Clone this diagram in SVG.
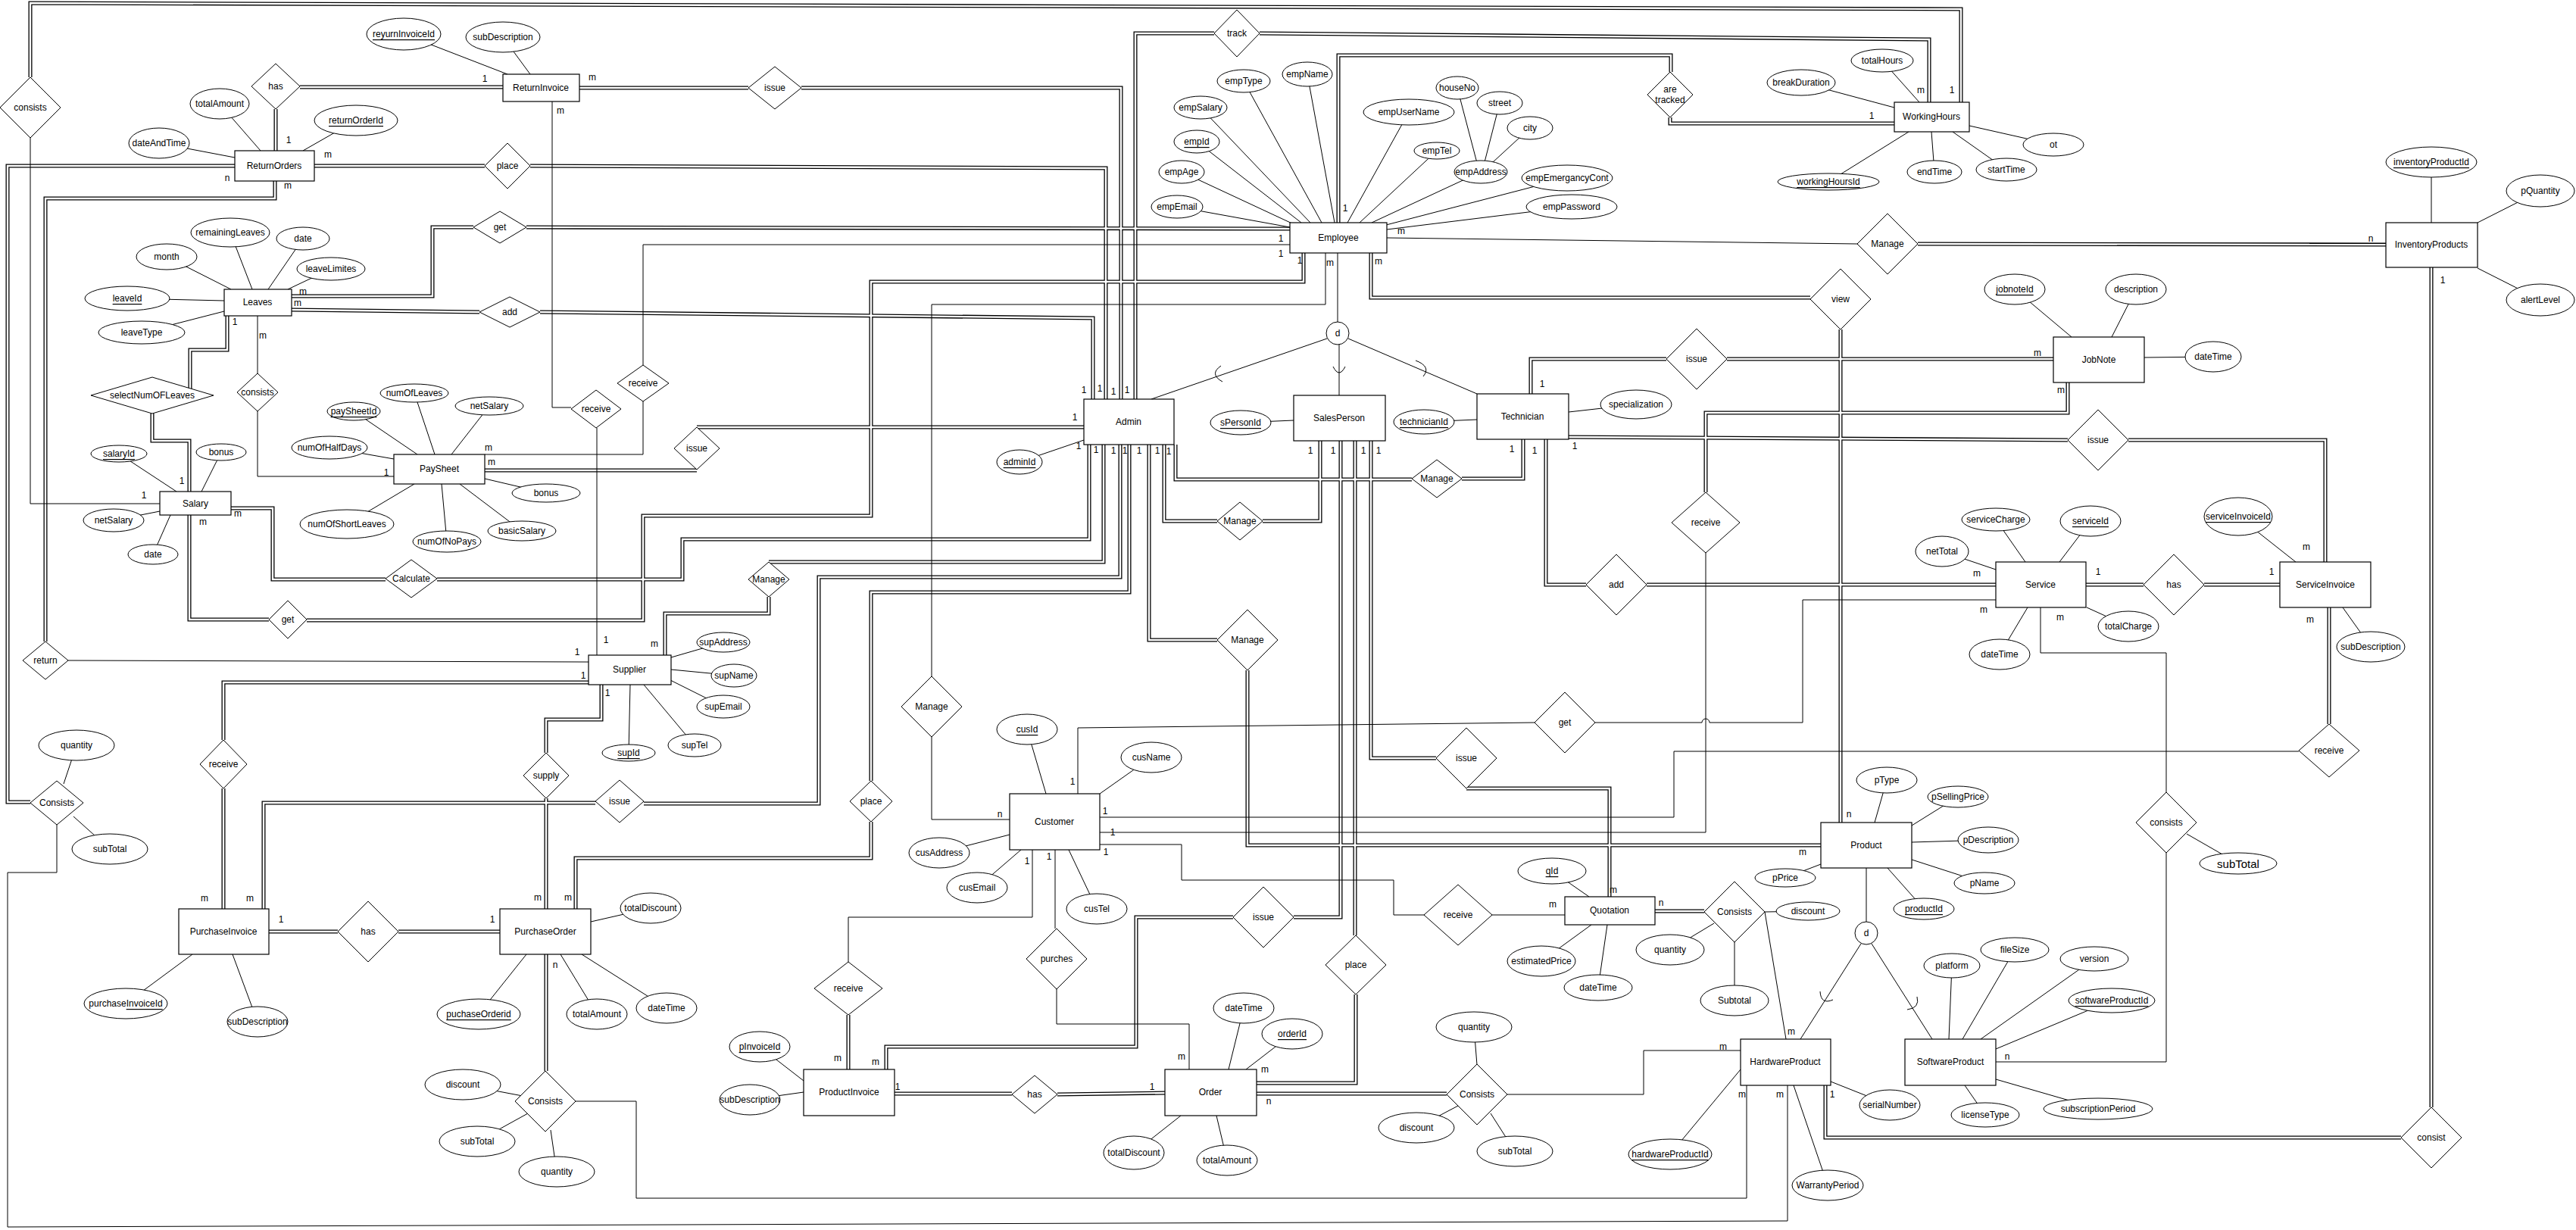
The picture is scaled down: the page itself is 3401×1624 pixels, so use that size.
<svg xmlns="http://www.w3.org/2000/svg" xmlns:xlink="http://www.w3.org/1999/xlink" width="3401" height="1624" viewBox="0 0 3401 1624">
<style>
.e{fill:#fff;stroke:#000;stroke-width:1.2}
.a{fill:#fff;stroke:#000;stroke-width:1}
.r{fill:#fff;stroke:#000;stroke-width:1}
text{font-family:"Liberation Sans",Arial,sans-serif;font-size:12px;fill:#000;text-anchor:middle;dominant-baseline:central}
.u{text-decoration:underline}
.big{font-size:15px}
.s path,.s line{fill:none;stroke:#000;stroke-width:1}
.d1{fill:none;stroke:#000;stroke-width:5}
.d2{fill:none;stroke:#fff;stroke-width:2.4}
</style>
<defs>
<path id="D1" d="M40,102V4L2589,12V135"/>
<path id="D2" d="M364,144V199"/>
<path id="D3" d="M396,115H664"/>
<path id="D4" d="M765,116H988"/>
<path id="D5" d="M1058,116H1480V527"/>
<path id="D6" d="M415,219H640"/>
<path id="D7" d="M700,219L1460,222V527"/>
<path id="D8" d="M385,391H571V300H625"/>
<path id="D9" d="M695,300L1703,302"/>
<path id="D10" d="M385,409L633,412"/>
<path id="D11" d="M713,412L1443,420V527"/>
<path id="D12" d="M1603,44H1499V527"/>
<path id="D13" d="M1663,44L2547,52V135"/>
<path id="D14" d="M1767,294V73H2206V95"/>
<path id="D15" d="M2205,155V163H2501"/>
<path id="D16" d="M1810,334V393H2390"/>
<path id="D17" d="M2430,435V1086"/>
<path id="D18" d="M2532,322L3150,323"/>
<path id="D19" d="M3210,353V1462"/>
<path id="D20" d="M3170,1502H2410V1433"/>
<path id="D21" d="M1721,334V372H1150V681H849V819H405"/>
<path id="D22" d="M355,818H250V680"/>
<path id="D23" d="M305,671H360V765H509"/>
<path id="D24" d="M577,765H901V712H1438V587"/>
<path id="D25" d="M640,621H920"/>
<path id="D26" d="M920,564H1431"/>
<path id="D27" d="M1457,587V742H1015"/>
<path id="D28" d="M1015,788V810H878V865"/>
<path id="D29" d="M1479,587V762H1081V1061H850"/>
<path id="D30" d="M786,1060H348V1200"/>
<path id="D31" d="M1491,587V782H1150V1031"/>
<path id="D32" d="M1150,1085V1133H760V1200"/>
<path id="D33" d="M1517,587V845H1607"/>
<path id="D34" d="M1647,885V1116H2404"/>
<path id="D35" d="M1537,587V688H1607"/>
<path id="D36" d="M1667,688H1743V582"/>
<path id="D37" d="M1552,587V633H1864"/>
<path id="D38" d="M1930,632H2011V580"/>
<path id="D39" d="M2021,520V474H2200"/>
<path id="D40" d="M2280,474H2711"/>
<path id="D41" d="M2041,580V772H2094"/>
<path id="D42" d="M2174,772H2635"/>
<path id="D43" d="M2071,577L2730,581"/>
<path id="D44" d="M2810,581H3070V742"/>
<path id="D45" d="M2754,772H2830"/>
<path id="D46" d="M2910,772H3010"/>
<path id="D47" d="M3075,956V802"/>
<path id="D48" d="M2730,505V545H2252V650"/>
<path id="D49" d="M310,219H10V1059H40"/>
<path id="D50" d="M363,239V262H60V847"/>
<path id="D51" d="M300,417V462H251V513"/>
<path id="D52" d="M201,546V582H250V649"/>
<path id="D53" d="M794,904V950H721V994"/>
<path id="D54" d="M721,1054V1200"/>
<path id="D55" d="M777,901H295V977"/>
<path id="D56" d="M295,1041V1200"/>
<path id="D57" d="M355,1230H446"/>
<path id="D58" d="M526,1230H660"/>
<path id="D59" d="M721,1260V1414"/>
<path id="D60" d="M1770,582V1211H1708"/>
<path id="D61" d="M1628,1211H1500V1382H1170V1412"/>
<path id="D62" d="M1789,582V1235"/>
<path id="D63" d="M1790,1313V1430H1659"/>
<path id="D64" d="M1659,1444H1910"/>
<path id="D65" d="M1810,582V1001H1896"/>
<path id="D66" d="M1936,1041H2125V1184"/>
<path id="D67" d="M1120,1340V1412"/>
<path id="D68" d="M1181,1444H1336"/>
<path id="D69" d="M1396,1445L1538,1443"/>
<path id="D70" d="M2185,1203H2250"/>
</defs>
<rect width="3401" height="1624" fill="#fff"/>
<g id="connectors">
<g class="d1">
<use href="#D1"/><use href="#D2"/><use href="#D3"/><use href="#D4"/><use href="#D5"/><use href="#D6"/><use href="#D7"/><use href="#D8"/><use href="#D9"/><use href="#D10"/>
<use href="#D11"/><use href="#D12"/><use href="#D13"/><use href="#D14"/><use href="#D15"/><use href="#D16"/><use href="#D17"/><use href="#D18"/><use href="#D19"/><use href="#D20"/>
<use href="#D21"/><use href="#D22"/><use href="#D23"/><use href="#D24"/><use href="#D25"/><use href="#D26"/><use href="#D27"/><use href="#D28"/><use href="#D29"/><use href="#D30"/>
<use href="#D31"/><use href="#D32"/><use href="#D33"/><use href="#D34"/><use href="#D35"/><use href="#D36"/><use href="#D37"/><use href="#D38"/><use href="#D39"/><use href="#D40"/>
<use href="#D41"/><use href="#D42"/><use href="#D43"/><use href="#D44"/><use href="#D45"/><use href="#D46"/><use href="#D47"/><use href="#D48"/><use href="#D49"/><use href="#D50"/>
<use href="#D51"/><use href="#D52"/><use href="#D53"/><use href="#D54"/><use href="#D55"/><use href="#D56"/><use href="#D57"/><use href="#D58"/><use href="#D59"/><use href="#D60"/>
<use href="#D61"/><use href="#D62"/><use href="#D63"/><use href="#D64"/><use href="#D65"/><use href="#D66"/><use href="#D67"/><use href="#D68"/><use href="#D69"/><use href="#D70"/>
</g>
<g class="d2">
<use href="#D1"/><use href="#D2"/><use href="#D3"/><use href="#D4"/><use href="#D5"/><use href="#D6"/><use href="#D7"/><use href="#D8"/><use href="#D9"/><use href="#D10"/>
<use href="#D11"/><use href="#D12"/><use href="#D13"/><use href="#D14"/><use href="#D15"/><use href="#D16"/><use href="#D17"/><use href="#D18"/><use href="#D19"/><use href="#D20"/>
<use href="#D21"/><use href="#D22"/><use href="#D23"/><use href="#D24"/><use href="#D25"/><use href="#D26"/><use href="#D27"/><use href="#D28"/><use href="#D29"/><use href="#D30"/>
<use href="#D31"/><use href="#D32"/><use href="#D33"/><use href="#D34"/><use href="#D35"/><use href="#D36"/><use href="#D37"/><use href="#D38"/><use href="#D39"/><use href="#D40"/>
<use href="#D41"/><use href="#D42"/><use href="#D43"/><use href="#D44"/><use href="#D45"/><use href="#D46"/><use href="#D47"/><use href="#D48"/><use href="#D49"/><use href="#D50"/>
<use href="#D51"/><use href="#D52"/><use href="#D53"/><use href="#D54"/><use href="#D55"/><use href="#D56"/><use href="#D57"/><use href="#D58"/><use href="#D59"/><use href="#D60"/>
<use href="#D61"/><use href="#D62"/><use href="#D63"/><use href="#D64"/><use href="#D65"/><use href="#D66"/><use href="#D67"/><use href="#D68"/><use href="#D69"/><use href="#D70"/>
</g>
<g class="s">
<path d="M40,182V665H211"/>
<path d="M729,134V538H754"/>
<path d="M788,565V865"/>
<path d="M1703,323H849V482"/>
<path d="M849,530V600H640"/>
<path d="M520,629H340V543"/>
<path d="M340,493V417"/>
<path d="M90,872L777,874"/>
<path d="M1750,334V402H1230V893"/>
<path d="M1230,973V1082H1333"/>
<path d="M1831,314L2452,322"/>
<path d="M1766,334V425"/>
<path d="M1768,455V522"/>
<path d="M1780,447L1950,520"/>
<path d="M1752,447L1520,527"/>
<path d="M1423,1048V961L2026,954"/>
<path d="M2106,954H2247a5,5 0 0 1 10,0H2380V792H2635"/>
<path d="M2252,730V1099H1452"/>
<path d="M1452,1079H2210V992H3035"/>
<path d="M1452,1115H1560V1162H1840V1208H1880"/>
<path d="M1970,1208H2066"/>
<path d="M1363,1122V1211H1120V1270"/>
<path d="M1393,1122V1226"/>
<path d="M1395,1306V1352H1570V1412"/>
<path d="M2330,1204L2358,1372"/>
<path d="M2298,1387H2170V1445H1990"/>
<path d="M2306,1433V1582H840V1454H760"/>
<path d="M2360,1433V1612L10,1620V1152H75V1089"/>
<path d="M2464,1146V1217"/>
<path d="M2457,1246L2377,1372"/>
<path d="M2471,1246L2551,1372"/>
<path d="M2694,802V862H2860V1046"/>
<path d="M2860,1126V1402H2635"/>
<path d="M1760,484Q1768,500 1776,484"/>
<path d="M1869,476Q1890,484 1879,497"/>
<path d="M1612,483Q1596,494 1614,504"/>
<path d="M2403,1309Q2404,1327 2420,1320"/>
<path d="M2531,1316Q2535,1331 2518,1333"/>
<path d="M533,45L670,98M664,49L700,98"/>
<path d="M290,137L344,199M470,159L400,199M210,189L310,208"/>
<path d="M304,307L333,382M400,315L354,382M220,339L305,382M437,355L380,382M168,394L296,397M187,439L296,411"/>
<path d="M1642,107L1745,294M1585,142L1730,294M1580,187L1718,294M1560,227L1708,296M1554,273L1703,300M1726,98L1762,294M1860,148L1779,294M1897,199L1795,294M1955,227L1811,294M2069,235L1830,297M2075,273L1831,303"/>
<path d="M1924,116L1950,215M1980,136L1960,214M2020,169L1970,215"/>
<path d="M2378,109L2501,142M2485,80L2534,135M2414,240L2520,174M2554,227L2550,174M2649,224L2578,174M2711,191L2600,166"/>
<path d="M3210,214L3210,294M3354,252L3271,294M3354,396L3271,354"/>
<path d="M2660,382L2735,445M2820,382L2788,445M2922,471L2831,472"/>
<path d="M1880,557L1950,554M2160,534L2071,544M1638,558L1708,555M1346,610L1431,581"/>
<path d="M467,543L551,600M547,519L574,600M646,536L596,600M435,591L520,606M721,651L640,632M458,692L547,639M689,701L607,639M590,715L583,639"/>
<path d="M157,599L233,649M292,597L266,649M150,687L211,675M202,732L225,680"/>
<path d="M955,848L886,868M969,892L886,884M955,933L885,898M917,984L850,904M830,994L832,904"/>
<path d="M101,984L84,1035M145,1121L97,1078"/>
<path d="M166,1325L254,1260M340,1349L307,1260"/>
<path d="M859,1199L780,1217M632,1339L695,1260M788,1339L740,1260M880,1331L768,1260"/>
<path d="M611,1432L690,1447M630,1507L697,1470M735,1547L727,1492"/>
<path d="M1356,963L1381,1048M1520,1000L1452,1048M1240,1126L1333,1102M1290,1172L1348,1122M1448,1200L1411,1122"/>
<path d="M1003,1382L1061,1427M990,1452L1061,1442"/>
<path d="M1642,1331L1622,1412M1706,1365L1645,1412M1497,1522L1559,1473M1620,1532L1606,1473"/>
<path d="M2049,1150L2098,1184M2035,1269L2101,1221M2110,1304L2122,1221"/>
<path d="M2387,1203L2330,1204M2205,1254L2263,1219M2290,1321L2290,1244"/>
<path d="M1946,1356L1950,1406M1870,1489L1925,1460M2000,1520L1968,1470"/>
<path d="M2491,1030L2475,1086M2585,1052L2524,1090M2625,1109L2524,1112M2620,1166L2524,1135M2357,1159L2404,1141M2540,1200L2492,1146"/>
<path d="M2205,1524L2298,1412M2495,1459L2417,1428M2413,1565L2368,1433"/>
<path d="M2577,1275L2573,1372M2660,1254L2591,1372M2765,1266L2615,1372M2788,1321L2635,1385M2621,1472L2594,1433M2770,1464L2635,1425"/>
<path d="M2635,686L2674,742M2760,688L2719,742M2564,728L2635,752M2640,864L2677,802M2810,827L2755,802"/>
<path d="M2955,682L3031,742M3130,854L3093,802M2955,1140L2887,1101"/>
</g>
<g id="cardinalities">
<text x="640" y="104">1</text><text x="782" y="102">m</text><text x="740" y="146">m</text><text x="381" y="185">1</text><text x="433" y="204">m</text><text x="300" y="235">n</text><text x="380" y="245">m</text>
<text x="400" y="385">m</text><text x="393" y="400">m</text><text x="310" y="425">1</text><text x="347" y="443">m</text>
<text x="1431" y="515">1</text><text x="1452" y="513">1</text><text x="1470" y="517">1</text><text x="1488" y="515">1</text>
<text x="1691" y="315">1</text><text x="1691" y="335">1</text><text x="1776" y="275">1</text><text x="1850" y="305">m</text><text x="1716" y="344">1</text><text x="1756" y="347">m</text><text x="1820" y="345">m</text>
<text x="2471" y="153">1</text><text x="2536" y="119">m</text><text x="2577" y="119">1</text><text x="3130" y="315">n</text><text x="3225" y="370">1</text>
<text x="2690" y="466">m</text><text x="2721" y="515">m</text><text x="2036" y="507">1</text><text x="1996" y="593">1</text><text x="2026" y="595">1</text><text x="2079" y="589">1</text>
<text x="1730" y="595">1</text><text x="1760" y="595">1</text><text x="1800" y="595">1</text><text x="1820" y="595">1</text>
<text x="1419" y="551">1</text><text x="1424" y="589">1</text><text x="1447" y="594">1</text><text x="1470" y="595">1</text><text x="1485" y="595">1</text><text x="1504" y="595">1</text><text x="1528" y="595">1</text><text x="1543" y="596">1</text>
<text x="864" y="850">m</text><text x="800" y="845">1</text><text x="762" y="861">1</text><text x="770" y="892">1</text><text x="802" y="915">1</text>
<text x="240" y="635">1</text><text x="190" y="654">1</text><text x="314" y="678">m</text><text x="268" y="689">m</text><text x="645" y="591">m</text><text x="649" y="610">m</text><text x="510" y="624">1</text>
<text x="270" y="1186">m</text><text x="330" y="1186">m</text><text x="371" y="1214">1</text><text x="650" y="1214">1</text><text x="710" y="1185">m</text><text x="750" y="1185">m</text><text x="733" y="1274">n</text>
<text x="1416" y="1032">1</text><text x="1320" y="1075">n</text><text x="1459" y="1071">1</text><text x="1469" y="1099">1</text><text x="1460" y="1125">1</text><text x="1356" y="1137">1</text><text x="1385" y="1131">1</text>
<text x="1106" y="1397">m</text><text x="1156" y="1402">m</text><text x="1185" y="1435">1</text><text x="1521" y="1435">1</text><text x="1560" y="1395">m</text><text x="1670" y="1412">m</text><text x="1675" y="1454">n</text>
<text x="2130" y="1175">m</text><text x="2050" y="1194">m</text><text x="2193" y="1192">n</text><text x="2380" y="1125">m</text><text x="2441" y="1075">n</text>
<text x="2365" y="1362">m</text><text x="2275" y="1382">m</text><text x="2300" y="1445">m</text><text x="2350" y="1445">m</text><text x="2419" y="1445">1</text><text x="2650" y="1395">n</text>
<text x="2610" y="757">m</text><text x="2619" y="805">m</text><text x="2720" y="815">m</text><text x="2770" y="755">1</text><text x="2999" y="755">1</text><text x="3045" y="722">m</text><text x="3050" y="818">m</text>
</g>
</g>

<g id="ReturnInvoice"><rect class="e" x="664" y="98" width="101" height="36"/><text x="714" y="116">ReturnInvoice</text>
<ellipse class="a" cx="533" cy="45" rx="49" ry="21"/><text x="533" y="45" class="u">reyurnInvoiceId</text>
<ellipse class="a" cx="664" cy="49" rx="49" ry="20"/><text x="664" y="49">subDescription</text></g>

<g id="ReturnOrders"><rect class="e" x="310" y="199" width="105" height="40"/><text x="362" y="219">ReturnOrders</text>
<ellipse class="a" cx="290" cy="137" rx="39" ry="20"/><text x="290" y="137">totalAmount</text>
<ellipse class="a" cx="470" cy="159" rx="55" ry="20"/><text x="470" y="159" class="u">returnOrderId</text>
<ellipse class="a" cx="210" cy="189" rx="40" ry="20"/><text x="210" y="189">dateAndTime</text></g>

<g id="Leaves"><rect class="e" x="296" y="382" width="89" height="35"/><text x="340" y="399">Leaves</text>
<ellipse class="a" cx="304" cy="307" rx="52" ry="19"/><text x="304" y="307">remainingLeaves</text>
<ellipse class="a" cx="400" cy="315" rx="35" ry="15"/><text x="400" y="315">date</text>
<ellipse class="a" cx="220" cy="339" rx="40" ry="17"/><text x="220" y="339">month</text>
<ellipse class="a" cx="437" cy="355" rx="45" ry="15"/><text x="437" y="355">leaveLimites</text>
<ellipse class="a" cx="168" cy="394" rx="56" ry="16"/><text x="168" y="394" class="u">leaveId</text>
<ellipse class="a" cx="187" cy="439" rx="57" ry="15"/><text x="187" y="439">leaveType</text></g>

<g id="Employee"><rect class="e" x="1703" y="294" width="128" height="40"/><text x="1767" y="314">Employee</text>
<ellipse class="a" cx="1642" cy="107" rx="35" ry="15"/><text x="1642" y="107">empType</text>
<ellipse class="a" cx="1585" cy="142" rx="35" ry="15"/><text x="1585" y="142">empSalary</text>
<ellipse class="a" cx="1580" cy="187" rx="30" ry="15"/><text x="1580" y="187" class="u">empId</text>
<ellipse class="a" cx="1560" cy="227" rx="30" ry="15"/><text x="1560" y="227">empAge</text>
<ellipse class="a" cx="1554" cy="273" rx="34" ry="15"/><text x="1554" y="273">empEmail</text>
<ellipse class="a" cx="1726" cy="98" rx="33" ry="16"/><text x="1726" y="98">empName</text>
<ellipse class="a" cx="1860" cy="148" rx="60" ry="17"/><text x="1860" y="148">empUserName</text>
<ellipse class="a" cx="1924" cy="116" rx="28" ry="15"/><text x="1924" y="116">houseNo</text>
<ellipse class="a" cx="1980" cy="136" rx="30" ry="15"/><text x="1980" y="136">street</text>
<ellipse class="a" cx="2020" cy="169" rx="30" ry="15"/><text x="2020" y="169">city</text>
<ellipse class="a" cx="1897" cy="199" rx="30" ry="11"/><text x="1897" y="199">empTel</text>
<ellipse class="a" cx="1955" cy="227" rx="35" ry="15"/><text x="1955" y="227">empAddress</text>
<ellipse class="a" cx="2069" cy="235" rx="60" ry="17"/><text x="2069" y="235">empEmergancyCont</text>
<ellipse class="a" cx="2075" cy="273" rx="60" ry="16"/><text x="2075" y="273">empPassword</text></g>

<g id="WorkingHours"><rect class="e" x="2501" y="135" width="99" height="39"/><text x="2550" y="154">WorkingHours</text>
<ellipse class="a" cx="2378" cy="109" rx="45" ry="17"/><text x="2378" y="109">breakDuration</text>
<ellipse class="a" cx="2485" cy="80" rx="41" ry="15"/><text x="2485" y="80">totalHours</text>
<ellipse class="a" cx="2414" cy="240" rx="67" ry="11"/><text x="2414" y="240" class="u">workingHoursId</text>
<ellipse class="a" cx="2554" cy="227" rx="36" ry="15"/><text x="2554" y="227">endTime</text>
<ellipse class="a" cx="2649" cy="224" rx="40" ry="15"/><text x="2649" y="224">startTime</text>
<ellipse class="a" cx="2711" cy="191" rx="40" ry="15"/><text x="2711" y="191">ot</text></g>

<g id="InventoryProducts"><rect class="e" x="3150" y="294" width="121" height="59"/><text x="3210" y="323">InventoryProducts</text>
<ellipse class="a" cx="3210" cy="214" rx="60" ry="20"/><text x="3210" y="214" class="u">inventoryProductId</text>
<ellipse class="a" cx="3354" cy="252" rx="45" ry="21"/><text x="3354" y="252">pQuantity</text>
<ellipse class="a" cx="3354" cy="396" rx="45" ry="21"/><text x="3354" y="396">alertLevel</text></g>

<g id="JobNote"><rect class="e" x="2711" y="445" width="120" height="60"/><text x="2771" y="475">JobNote</text>
<ellipse class="a" cx="2660" cy="382" rx="40" ry="20"/><text x="2660" y="382" class="u">jobnoteId</text>
<ellipse class="a" cx="2820" cy="382" rx="40" ry="20"/><text x="2820" y="382">description</text>
<ellipse class="a" cx="2922" cy="471" rx="37" ry="20"/><text x="2922" y="471">dateTime</text></g>

<g id="Admin"><rect class="e" x="1431" y="527" width="119" height="60"/><text x="1490" y="557">Admin</text>
<ellipse class="a" cx="1346" cy="610" rx="30" ry="16"/><text x="1346" y="610" class="u">adminId</text></g>

<g id="SalesPerson"><rect class="e" x="1708" y="522" width="121" height="60"/><text x="1768" y="552">SalesPerson</text>
<ellipse class="a" cx="1638" cy="558" rx="40" ry="16"/><text x="1638" y="558" class="u">sPersonId</text></g>

<g id="Technician"><rect class="e" x="1950" y="520" width="121" height="60"/><text x="2010" y="550">Technician</text>
<ellipse class="a" cx="1880" cy="557" rx="40" ry="16"/><text x="1880" y="557" class="u">technicianId</text>
<ellipse class="a" cx="2160" cy="534" rx="47" ry="19"/><text x="2160" y="534">specialization</text></g>

<g id="PaySheet"><rect class="e" x="520" y="600" width="120" height="39"/><text x="580" y="619">PaySheet</text>
<ellipse class="a" cx="467" cy="543" rx="35" ry="12"/><text x="467" y="543" class="u">paySheetId</text>
<ellipse class="a" cx="547" cy="519" rx="45" ry="12"/><text x="547" y="519">numOfLeaves</text>
<ellipse class="a" cx="646" cy="536" rx="45" ry="12"/><text x="646" y="536">netSalary</text>
<ellipse class="a" cx="435" cy="591" rx="50" ry="15"/><text x="435" y="591">numOfHalfDays</text>
<ellipse class="a" cx="721" cy="651" rx="45" ry="12"/><text x="721" y="651">bonus</text>
<ellipse class="a" cx="458" cy="692" rx="62" ry="19"/><text x="458" y="692">numOfShortLeaves</text>
<ellipse class="a" cx="689" cy="701" rx="45" ry="13"/><text x="689" y="701">basicSalary</text>
<ellipse class="a" cx="590" cy="715" rx="45" ry="14"/><text x="590" y="715">numOfNoPays</text></g>

<g id="Salary"><rect class="e" x="211" y="649" width="94" height="31"/><text x="258" y="665">Salary</text>
<ellipse class="a" cx="157" cy="599" rx="37" ry="11"/><text x="157" y="599" class="u">salaryId</text>
<ellipse class="a" cx="292" cy="597" rx="33" ry="11"/><text x="292" y="597">bonus</text>
<ellipse class="a" cx="150" cy="687" rx="40" ry="15"/><text x="150" y="687">netSalary</text>
<ellipse class="a" cx="202" cy="732" rx="33" ry="13"/><text x="202" y="732">date</text></g>

<g id="Supplier"><rect class="e" x="777" y="865" width="109" height="39"/><text x="831" y="884">Supplier</text>
<ellipse class="a" cx="955" cy="848" rx="35" ry="13"/><text x="955" y="848">supAddress</text>
<ellipse class="a" cx="969" cy="892" rx="30" ry="15"/><text x="969" y="892">supName</text>
<ellipse class="a" cx="955" cy="933" rx="35" ry="15"/><text x="955" y="933">supEmail</text>
<ellipse class="a" cx="917" cy="984" rx="35" ry="15"/><text x="917" y="984">supTel</text>
<ellipse class="a" cx="830" cy="994" rx="35" ry="11"/><text x="830" y="994" class="u">supId</text></g>

<g id="PurchaseInvoice"><rect class="e" x="236" y="1200" width="119" height="60"/><text x="295" y="1230">PurchaseInvoice</text>
<ellipse class="a" cx="166" cy="1325" rx="55" ry="20"/><text x="166" y="1325">purchase<tspan class="u">InvoiceId</tspan></text>
<ellipse class="a" cx="340" cy="1349" rx="40" ry="20"/><text x="340" y="1349">subDescription</text></g>

<g id="PurchaseOrder"><rect class="e" x="660" y="1200" width="120" height="60"/><text x="720" y="1230">PurchaseOrder</text>
<ellipse class="a" cx="859" cy="1199" rx="40" ry="20"/><text x="859" y="1199">totalDiscount</text>
<ellipse class="a" cx="632" cy="1339" rx="55" ry="20"/><text x="632" y="1339" class="u">puchaseOrderid</text>
<ellipse class="a" cx="788" cy="1339" rx="40" ry="20"/><text x="788" y="1339">totalAmount</text>
<ellipse class="a" cx="880" cy="1331" rx="40" ry="20"/><text x="880" y="1331">dateTime</text></g>

<g id="Customer"><rect class="e" x="1333" y="1048" width="119" height="74"/><text x="1392" y="1085">Customer</text>
<ellipse class="a" cx="1356" cy="963" rx="40" ry="20"/><text x="1356" y="963" class="u">cusId</text>
<ellipse class="a" cx="1520" cy="1000" rx="40" ry="20"/><text x="1520" y="1000">cusName</text>
<ellipse class="a" cx="1240" cy="1126" rx="40" ry="20"/><text x="1240" y="1126">cusAddress</text>
<ellipse class="a" cx="1290" cy="1172" rx="40" ry="20"/><text x="1290" y="1172">cusEmail</text>
<ellipse class="a" cx="1448" cy="1200" rx="40" ry="20"/><text x="1448" y="1200">cusTel</text></g>

<g id="ProductInvoice"><rect class="e" x="1061" y="1412" width="120" height="61"/><text x="1121" y="1442">ProductInvoice</text>
<ellipse class="a" cx="1003" cy="1382" rx="40" ry="20"/><text x="1003" y="1382" class="u">pInvoiceId</text>
<ellipse class="a" cx="990" cy="1452" rx="40" ry="20"/><text x="990" y="1452">subDescription</text></g>

<g id="Order"><rect class="e" x="1538" y="1412" width="121" height="61"/><text x="1598" y="1442">Order</text>
<ellipse class="a" cx="1642" cy="1331" rx="40" ry="20"/><text x="1642" y="1331">dateTime</text>
<ellipse class="a" cx="1706" cy="1365" rx="40" ry="20"/><text x="1706" y="1365" class="u">orderId</text>
<ellipse class="a" cx="1497" cy="1522" rx="40" ry="22"/><text x="1497" y="1522">totalDiscount</text>
<ellipse class="a" cx="1620" cy="1532" rx="40" ry="20"/><text x="1620" y="1532">totalAmount</text></g>

<g id="Quotation"><rect class="e" x="2066" y="1184" width="119" height="37"/><text x="2125" y="1202">Quotation</text>
<ellipse class="a" cx="2049" cy="1150" rx="45" ry="17"/><text x="2049" y="1150" class="u">qId</text>
<ellipse class="a" cx="2035" cy="1269" rx="45" ry="20"/><text x="2035" y="1269">estimatedPrice</text>
<ellipse class="a" cx="2110" cy="1304" rx="45" ry="17"/><text x="2110" y="1304">dateTime</text></g>

<g id="Product"><rect class="e" x="2404" y="1086" width="120" height="60"/><text x="2464" y="1116">Product</text>
<ellipse class="a" cx="2491" cy="1030" rx="40" ry="17"/><text x="2491" y="1030">pType</text>
<ellipse class="a" cx="2585" cy="1052" rx="40" ry="14"/><text x="2585" y="1052">pSellingPrice</text>
<ellipse class="a" cx="2625" cy="1109" rx="40" ry="17"/><text x="2625" y="1109">pDescription</text>
<ellipse class="a" cx="2620" cy="1166" rx="40" ry="14"/><text x="2620" y="1166">pName</text>
<ellipse class="a" cx="2357" cy="1159" rx="40" ry="12"/><text x="2357" y="1159">pPrice</text>
<ellipse class="a" cx="2540" cy="1200" rx="40" ry="14"/><text x="2540" y="1200" class="u">productId</text>
<ellipse class="a" cx="2464" cy="1232" rx="15" ry="15"/><text x="2464" y="1232">d</text></g>

<g id="HardwareProduct"><rect class="e" x="2298" y="1372" width="119" height="61"/><text x="2357" y="1402">HardwareProduct</text>
<ellipse class="a" cx="2205" cy="1524" rx="55" ry="20"/><text x="2205" y="1524" class="u">hardwareProductId</text>
<ellipse class="a" cx="2495" cy="1459" rx="40" ry="20"/><text x="2495" y="1459">serialNumber</text>
<ellipse class="a" cx="2413" cy="1565" rx="47" ry="20"/><text x="2413" y="1565">WarrantyPeriod</text></g>

<g id="SoftwareProduct"><rect class="e" x="2515" y="1372" width="120" height="61"/><text x="2575" y="1402">SoftwareProduct</text>
<ellipse class="a" cx="2577" cy="1275" rx="37" ry="16"/><text x="2577" y="1275">platform</text>
<ellipse class="a" cx="2660" cy="1254" rx="45" ry="16"/><text x="2660" y="1254">fileSize</text>
<ellipse class="a" cx="2765" cy="1266" rx="45" ry="16"/><text x="2765" y="1266">version</text>
<ellipse class="a" cx="2788" cy="1321" rx="57" ry="16"/><text x="2788" y="1321" class="u">softwareProductId</text>
<ellipse class="a" cx="2621" cy="1472" rx="45" ry="16"/><text x="2621" y="1472">licenseType</text>
<ellipse class="a" cx="2770" cy="1464" rx="72" ry="14"/><text x="2770" y="1464">subscriptionPeriod</text></g>

<g id="Service"><rect class="e" x="2635" y="742" width="119" height="60"/><text x="2694" y="772">Service</text>
<ellipse class="a" cx="2635" cy="686" rx="45" ry="15"/><text x="2635" y="686">serviceCharge</text>
<ellipse class="a" cx="2760" cy="688" rx="40" ry="20"/><text x="2760" y="688" class="u">serviceId</text>
<ellipse class="a" cx="2564" cy="728" rx="35" ry="20"/><text x="2564" y="728">netTotal</text>
<ellipse class="a" cx="2640" cy="864" rx="40" ry="20"/><text x="2640" y="864">dateTime</text>
<ellipse class="a" cx="2810" cy="827" rx="40" ry="20"/><text x="2810" y="827">totalCharge</text></g>

<g id="ServiceInvoice"><rect class="e" x="3010" y="742" width="120" height="60"/><text x="3070" y="772">ServiceInvoice</text>
<ellipse class="a" cx="2955" cy="682" rx="45" ry="25"/><text x="2955" y="682" class="u">serviceInvoiceId</text>
<ellipse class="a" cx="3130" cy="854" rx="45" ry="20"/><text x="3130" y="854">subDescription</text></g>

<g id="disjoint-employee"><ellipse class="a" cx="1766" cy="440" rx="15" ry="15"/><text x="1766" y="440">d</text></g>

<g id="rel-consists-top"><polygon class="r" points="40,102 80,142 40,182 0,142"/><text x="40" y="142">consists</text></g>
<g id="rel-has-ro"><polygon class="r" points="364,84 396,114 364,144 332,114"/><text x="364" y="114">has</text></g>
<g id="rel-issue-ri"><polygon class="r" points="1023,88 1058,116 1023,144 988,116"/><text x="1023" y="116">issue</text></g>
<g id="rel-place-ro"><polygon class="r" points="670,189 700,219 670,249 640,219"/><text x="670" y="219">place</text></g>
<g id="rel-get-leaves"><polygon class="r" points="660,279 695,300 660,321 625,300"/><text x="660" y="300">get</text></g>
<g id="rel-add-leaves"><polygon class="r" points="673,392 713,412 673,432 633,412"/><text x="673" y="412">add</text></g>
<g id="rel-track"><polygon class="r" points="1633,13 1663,44 1633,75 1603,44"/><text x="1633" y="44">track</text></g>
<g id="rel-are-tracked"><polygon class="r" points="2205,95 2235,125 2205,155 2175,125"/><text x="2205" y="118">are</text><text x="2205" y="132">tracked</text></g>
<g id="rel-manage-ip"><polygon class="r" points="2492,282 2532,322 2492,362 2452,322"/><text x="2492" y="322">Manage</text></g>
<g id="rel-view"><polygon class="r" points="2430,355 2470,395 2430,435 2390,395"/><text x="2430" y="395">view</text></g>
<g id="rel-issue-jn"><polygon class="r" points="2240,434 2280,474 2240,514 2200,474"/><text x="2240" y="474">issue</text></g>
<g id="rel-selectnum"><polygon class="r" points="201,498 282,522 201,546 120,522"/><text x="201" y="522">selectNumOFLeaves</text></g>
<g id="rel-consists-leaves"><polygon class="r" points="340,493 367,518 340,543 313,518"/><text x="340" y="518">consists</text></g>
<g id="rel-receive-ri"><polygon class="r" points="787,515 820,540 787,565 754,540"/><text x="787" y="540">receive</text></g>
<g id="rel-receive-ps"><polygon class="r" points="849,482 883,506 849,530 815,506"/><text x="849" y="506">receive</text></g>
<g id="rel-issue-ps"><polygon class="r" points="920,564 950,592 920,620 890,592"/><text x="920" y="592">issue</text></g>
<g id="rel-calculate"><polygon class="r" points="543,739 577,764 543,789 509,764"/><text x="543" y="764">Calculate</text></g>
<g id="rel-get-salary"><polygon class="r" points="380,793 405,818 380,843 355,818"/><text x="380" y="818">get</text></g>
<g id="rel-manage-sup"><polygon class="r" points="1015,742 1042,765 1015,788 988,765"/><text x="1015" y="765">Manage</text></g>
<g id="rel-return"><polygon class="r" points="60,847 90,872 60,897 30,872"/><text x="60" y="872">return</text></g>
<g id="rel-consists-left"><polygon class="r" points="75,1031 110,1060 75,1089 40,1060"/><text x="75" y="1060">Consists</text>
<ellipse class="a" cx="101" cy="984" rx="50" ry="20"/><text x="101" y="984">quantity</text>
<ellipse class="a" cx="145" cy="1121" rx="50" ry="20"/><text x="145" y="1121">subTotal</text></g>
<g id="rel-receive-pi"><polygon class="r" points="295,977 326,1009 295,1041 264,1009"/><text x="295" y="1009">receive</text></g>
<g id="rel-supply"><polygon class="r" points="721,994 751,1024 721,1054 691,1024"/><text x="721" y="1024">supply</text></g>
<g id="rel-issue-po"><polygon class="r" points="818,1030 850,1058 818,1086 786,1058"/><text x="818" y="1058">issue</text></g>
<g id="rel-place-po"><polygon class="r" points="1150,1031 1178,1058 1150,1085 1122,1058"/><text x="1150" y="1058">place</text></g>
<g id="rel-manage-sp"><polygon class="r" points="1637,663 1667,688 1637,713 1607,688"/><text x="1637" y="688">Manage</text></g>
<g id="rel-manage-tech"><polygon class="r" points="1897,607 1930,632 1897,657 1864,632"/><text x="1897" y="632">Manage</text></g>
<g id="rel-manage-product"><polygon class="r" points="1647,805 1687,845 1647,885 1607,845"/><text x="1647" y="845">Manage</text></g>
<g id="rel-manage-customer"><polygon class="r" points="1230,893 1270,933 1230,973 1190,933"/><text x="1230" y="933">Manage</text></g>
<g id="rel-receive-jn"><polygon class="r" points="2252,650 2297,690 2252,730 2207,690"/><text x="2252" y="690">receive</text></g>
<g id="rel-add-service"><polygon class="r" points="2134,732 2174,772 2134,812 2094,772"/><text x="2134" y="772">add</text></g>
<g id="rel-get-service"><polygon class="r" points="2066,914 2106,954 2066,994 2026,954"/><text x="2066" y="954">get</text></g>
<g id="rel-issue-q"><polygon class="r" points="1936,961 1976,1001 1936,1041 1896,1001"/><text x="1936" y="1001">issue</text></g>
<g id="rel-issue-si"><polygon class="r" points="2770,541 2810,581 2770,621 2730,581"/><text x="2770" y="581">issue</text></g>
<g id="rel-has-si"><polygon class="r" points="2870,732 2910,772 2870,812 2830,772"/><text x="2870" y="772">has</text></g>
<g id="rel-receive-si"><polygon class="r" points="3075,956 3115,991 3075,1026 3035,991"/><text x="3075" y="991">receive</text></g>
<g id="rel-consists-sp"><polygon class="r" points="2860,1046 2900,1086 2860,1126 2820,1086"/><text x="2860" y="1086">consists</text>
<ellipse class="a" cx="2955" cy="1140" rx="51" ry="14"/><text x="2955" y="1140" class="big">subTotal</text></g>
<g id="rel-purches"><polygon class="r" points="1395,1226 1435,1266 1395,1306 1355,1266"/><text x="1395" y="1266">purches</text></g>
<g id="rel-receive-pinv"><polygon class="r" points="1120,1270 1165,1305 1120,1340 1075,1305"/><text x="1120" y="1305">receive</text></g>
<g id="rel-issue-pinv"><polygon class="r" points="1668,1171 1708,1211 1668,1251 1628,1211"/><text x="1668" y="1211">issue</text></g>
<g id="rel-has-order"><polygon class="r" points="1366,1420 1396,1445 1366,1470 1336,1445"/><text x="1366" y="1445">has</text></g>
<g id="rel-place-order"><polygon class="r" points="1790,1235 1830,1274 1790,1313 1750,1274"/><text x="1790" y="1274">place</text></g>
<g id="rel-receive-q"><polygon class="r" points="1925,1168 1970,1208 1925,1248 1880,1208"/><text x="1925" y="1208">receive</text></g>
<g id="rel-consists-q"><polygon class="r" points="2290,1164 2330,1204 2290,1244 2250,1204"/><text x="2290" y="1204">Consists</text>
<ellipse class="a" cx="2387" cy="1203" rx="42" ry="12"/><text x="2387" y="1203">discount</text>
<ellipse class="a" cx="2205" cy="1254" rx="45" ry="20"/><text x="2205" y="1254">quantity</text>
<ellipse class="a" cx="2290" cy="1321" rx="45" ry="20"/><text x="2290" y="1321">Subtotal</text></g>
<g id="rel-consists-order"><polygon class="r" points="1950,1405 1990,1445 1950,1485 1910,1445"/><text x="1950" y="1445">Consists</text>
<ellipse class="a" cx="1946" cy="1356" rx="50" ry="20"/><text x="1946" y="1356">quantity</text>
<ellipse class="a" cx="1870" cy="1489" rx="50" ry="20"/><text x="1870" y="1489">discount</text>
<ellipse class="a" cx="2000" cy="1520" rx="50" ry="20"/><text x="2000" y="1520">subTotal</text></g>
<g id="rel-consist-ip"><polygon class="r" points="3210,1462 3250,1502 3210,1542 3170,1502"/><text x="3210" y="1502">consist</text></g>
<g id="rel-has-pi"><polygon class="r" points="486,1190 526,1230 486,1270 446,1230"/><text x="486" y="1230">has</text></g>
<g id="rel-consists-po"><polygon class="r" points="720,1414 760,1454 720,1494 680,1454"/><text x="720" y="1454">Consists</text>
<ellipse class="a" cx="611" cy="1432" rx="50" ry="20"/><text x="611" y="1432">discount</text>
<ellipse class="a" cx="630" cy="1507" rx="50" ry="20"/><text x="630" y="1507">subTotal</text>
<ellipse class="a" cx="735" cy="1547" rx="50" ry="20"/><text x="735" y="1547">quantity</text></g>
</svg>
